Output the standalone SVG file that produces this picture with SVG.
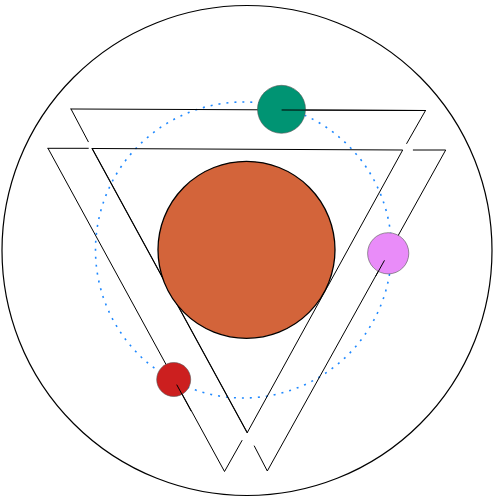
<svg xmlns="http://www.w3.org/2000/svg" width="500" height="500" viewBox="0 0 500 500">
<style>
.ln{stroke:#000;stroke-width:1;fill:none;stroke-linecap:round}
.ball{stroke:#555;stroke-width:0.6}
</style>
<rect width="500" height="500" fill="#fff"/>
<g id="outer-circle"><circle cx="247" cy="250.5" r="245" fill="none" stroke="#000" stroke-width="1.2"/></g>
<g id="orbit"><circle cx="243.5" cy="250" r="148" fill="none" stroke="#1e88ff" stroke-width="1.6" stroke-dasharray="2 6"/></g>
<g id="connectors">
<path class="ln" d="M71,109 L425.5,110.5 L406.7,143.5"/>
<path class="ln" d="M71,109 L88.3,141.7"/>
<path class="ln" d="M48,148.3 L88.3,148.3"/>
<path class="ln" d="M92.3,148.5 L402.7,150 L247.3,432.5 Z"/>
<path class="ln" d="M92.3,148.5 L247.3,432.5"/>
<path class="ln" d="M48,148.3 L224.5,471.5 L242,440.5"/>
<path class="ln" d="M254.3,446 L267.3,471 L445.7,150 L413.3,150"/>
</g>
<g id="core"><circle cx="246.5" cy="249.8" r="88.5" fill="#d3643a" stroke="#000" stroke-width="1.3"/></g>
<g id="green-node"><circle class="ball" cx="281.5" cy="109.3" r="24" fill="#009473"/><path class="ln" d="M282,110 L425.5,110.5"/></g>
<g id="pink-node"><circle class="ball" cx="388.2" cy="253.3" r="20.6" fill="#e98cf9"/><path class="ln" d="M384.3,260.7 L376,275.6"/></g>
<g id="red-node"><circle class="ball" cx="173.7" cy="379.5" r="17" fill="#cc1f1f"/><path class="ln" d="M176.9,385 L191,410.9"/></g>
</svg>
